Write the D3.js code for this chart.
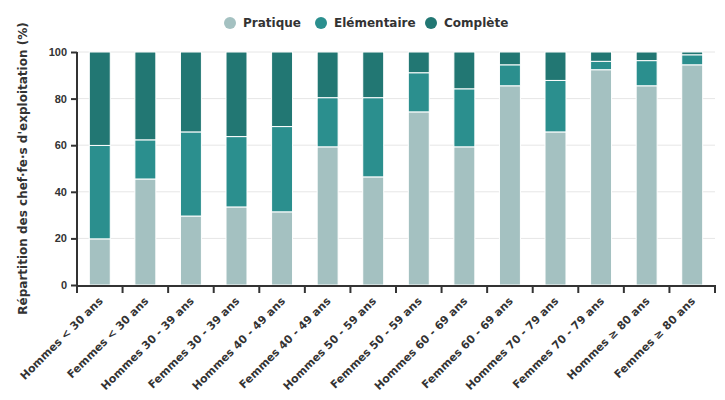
<!DOCTYPE html>
<html><head><meta charset="utf-8">
<script src="https://cdn.jsdelivr.net/npm/d3@7"></script>
<style>body{margin:0;background:#fff}svg{font-family:"DejaVu Sans",sans-serif}</style>
</head><body><svg id="c" width="725" height="400"></svg>
<script>
const categories = ["Hommes < 30 ans","Femmes < 30 ans","Hommes 30 - 39 ans","Femmes 30 - 39 ans","Hommes 40 - 49 ans","Femmes 40 - 49 ans","Hommes 50 - 59 ans","Femmes 50 - 59 ans","Hommes 60 - 69 ans","Femmes 60 - 69 ans","Hommes 70 - 79 ans","Femmes 70 - 79 ans","Hommes ≥ 80 ans","Femmes ≥ 80 ans"];
const seriesNames = ["Pratique","Elémentaire","Complète"];
const pratique = [19.8,45.5,29.6,33.5,31.4,59.3,46.4,74.3,59.3,85.5,65.7,92.4,85.5,94.5];
const elementaire = [40.1,16.8,36.1,30.2,36.6,21.1,34.0,16.8,24.9,9.0,22.1,3.6,10.8,4.3];
const complete = [40.1,37.7,34.3,36.3,32.0,19.6,19.6,8.9,15.8,5.5,12.2,4.0,3.7,1.2];
const yTicks = [0,20,40,60,80,100];
const colors = ["#a4c1c1","#2b8f8e","#227773"];

const svg = d3.select("#c");
const m = {l:77, r:715, t:52, b:285};
const rows = categories.map((c,i)=>({cat:c, "Pratique":pratique[i], "Elémentaire":elementaire[i], "Complète":complete[i]}));
const stack = d3.stack().keys(seriesNames)(rows);

const x = d3.scaleBand().domain(categories).range([m.l, m.r]).paddingInner(0.54).paddingOuter(0.27);
const y = d3.scaleLinear().domain([0,100]).range([m.b, m.t]);

// grid
svg.append("g").selectAll("line").data(yTicks.filter(d=>d>0)).join("line")
  .attr("x1", m.l).attr("x2", m.r).attr("y1", d=>y(d)).attr("y2", d=>y(d))
  .attr("stroke", "#e6e6e6").attr("stroke-width", 1);

// bars
svg.append("g").selectAll("g").data(stack).join("g")
  .attr("fill", (d,i)=>colors[i])
  .selectAll("rect").data(d=>d).join("rect")
  .attr("x", d=>x(d.data.cat)).attr("width", x.bandwidth())
  .attr("y", d=>y(d[1])).attr("height", d=>y(d[0])-y(d[1]))
  .attr("stroke", "#fff").attr("stroke-width", 1);

// y axis
const ya = svg.append("g").attr("transform", `translate(${m.l},0)`)
  .call(d3.axisLeft(y).tickValues(yTicks).tickSize(6).tickSizeOuter(0));
ya.select(".domain").attr("stroke", "#333").attr("stroke-width", 2).attr("d", `M0,${m.t}V${m.b+2}`);
ya.selectAll(".tick line").attr("stroke", "#333").attr("stroke-width", 2);
ya.selectAll(".tick text").attr("font-size", 11).attr("font-weight", "bold").attr("fill", "#333").attr("x", -10);

// x axis
const xa = svg.append("g").attr("transform", `translate(0,${m.b+1})`);
xa.append("line").attr("x1", m.l-1).attr("x2", m.r+1).attr("stroke", "#333").attr("stroke-width", 2);
const bounds = d3.range(categories.length+1).map(i => m.l + i*x.step());
xa.selectAll("line.t").data(bounds).join("line").attr("class","t")
  .attr("x1", d=>d).attr("x2", d=>d).attr("y1", 0).attr("y2", 7)
  .attr("stroke", "#333").attr("stroke-width", 2);
xa.selectAll("text").data(categories).join("text")
  .attr("transform", d=>`translate(${x(d)+x.bandwidth()/2+1},${13}) rotate(-45)`)
  .attr("text-anchor", "end").attr("dy", "0.35em")
  .attr("font-size", 11).attr("font-weight", "bold").attr("fill", "#333").text(d=>d);

// y title
svg.append("text").attr("transform", `translate(27,${(m.t+m.b)/2}) rotate(-90)`)
  .attr("text-anchor", "middle").attr("font-size", 12).attr("font-weight", "bold").attr("fill", "#333")
  .text("Répartition des chef·fe·s d'exploitation (%)");

// legend
const lg = svg.append("g");
const lx = [230, 321, 431];
seriesNames.forEach((s,i)=>{
  lg.append("circle").attr("cx", lx[i]).attr("cy", 23).attr("r", 6).attr("fill", colors[i]);
  lg.append("text").attr("x", lx[i]+13).attr("y", 23).attr("dy", "0.35em")
    .attr("font-size", 12).attr("font-weight", "bold").attr("fill", "#333").text(s);
});
</script></body></html>
